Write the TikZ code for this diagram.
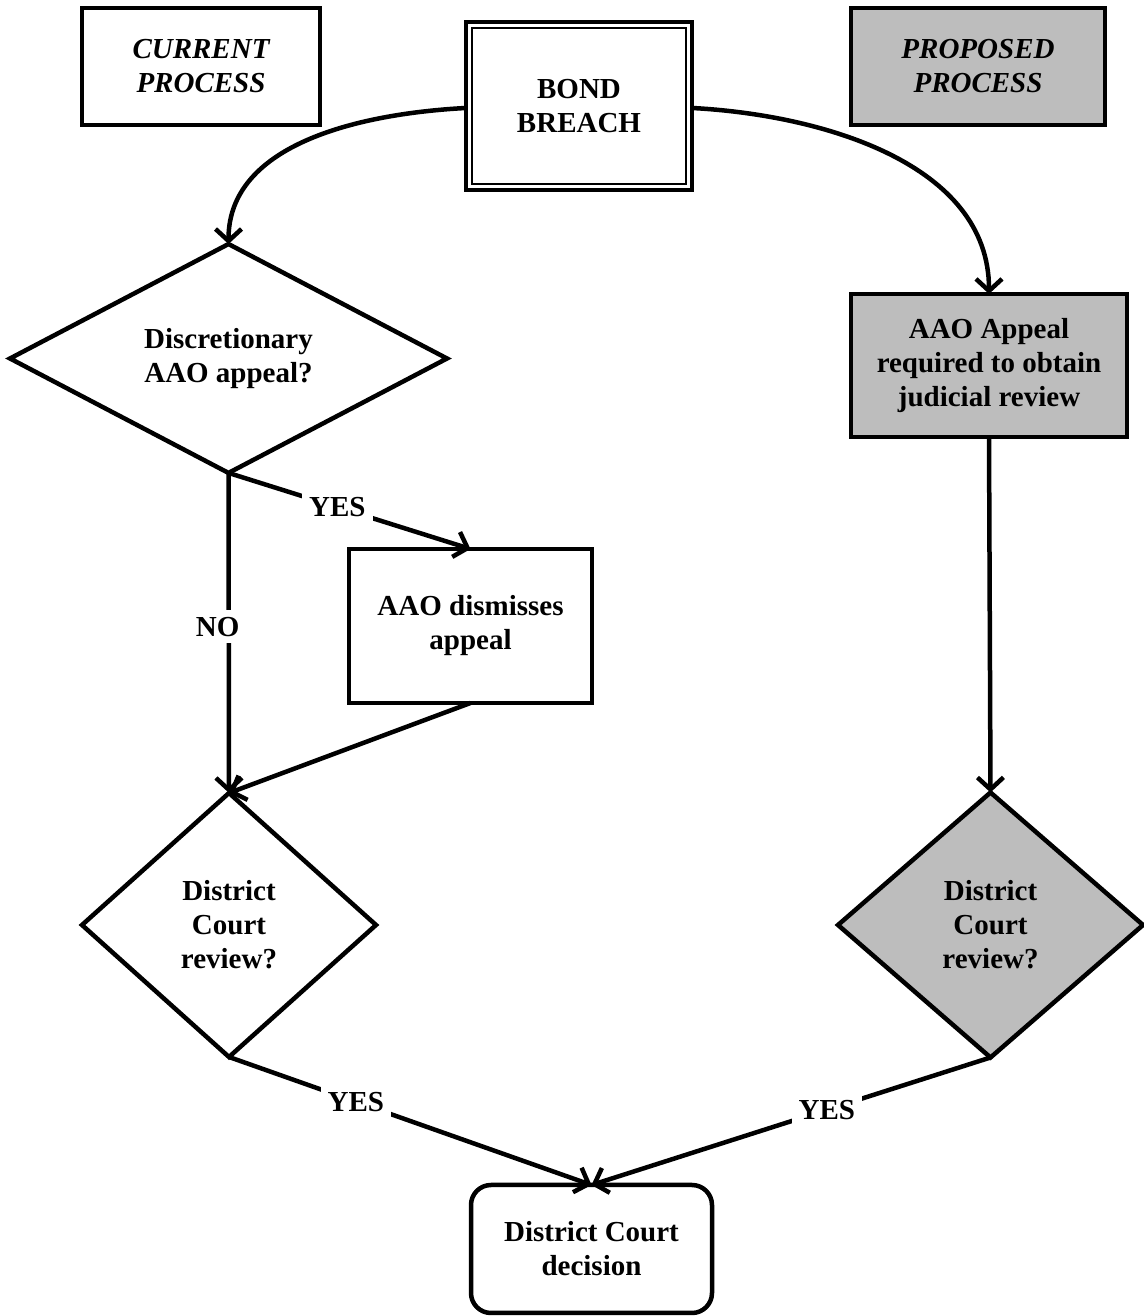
\documentclass[tikz,border=0pt]{standalone}
\usepackage{fontspec}
\setmainfont{Liberation Serif}
\usetikzlibrary{shapes.geometric,arrows.meta}
\definecolor{shade}{gray}{0.74}
\tikzset{
  txt/.style={font=\bfseries\fontsize{29}{34}\selectfont, align=center},
  box/.style={txt, draw, rectangle, line width=4.5pt, inner sep=0pt, outer sep=0pt},
  dia/.style={txt, draw, diamond, line width=4.5pt, inner sep=0pt, outer sep=0pt},
  conn/.style={line width=4.5pt, -{Straight Barb[length=12pt,width=26pt]}},
  lab/.style={txt, fill=white, inner sep=7pt},
}
\begin{document}
\begin{tikzpicture}[x=1pt,y=1pt]
\useasboundingbox (0,0) rectangle (1143,1316);
% header boxes
\node[box, minimum width=238pt, minimum height=117pt] (cur) at (201,1249.5) {\itshape CURRENT\\\itshape PROCESS};
\node[box, minimum width=226pt, minimum height=168pt] (bb) at (579,1210) {BOND\\BREACH};
\draw[line width=1.5pt] ([shift={(6pt,-6pt)}]bb.north west) rectangle ([shift={(-6pt,6pt)}]bb.south east);
\node[box, fill=shade, minimum width=254pt, minimum height=117pt] (prop) at (978,1249.5) {\itshape PROPOSED\\\itshape PROCESS};
% current process
\node[dia, minimum width=437pt, minimum height=217pt] (disc) at (228.5,957.5) {Discretionary\\AAO appeal?};
\node[box, minimum width=243pt, minimum height=154pt] (dism) at (470.5,690) {AAO dismisses\\appeal};
\node[dia, minimum width=294pt, minimum height=264pt] (dcl) at (229,391) {District\\Court\\review?};
% proposed process
\node[box, fill=shade, minimum width=276pt, minimum height=143pt] (aaoa) at (989,950.5) {AAO Appeal\\required to obtain\\judicial review};
\node[dia, fill=shade, minimum width=305pt, minimum height=265pt] (dcr) at (990.5,391) {District\\Court\\review?};
% decision
\node[box, rounded corners=20pt, minimum width=241pt, minimum height=128pt] (dec) at (591.5,67) {District Court\\decision};
% connectors
\draw[conn] ([yshift=-2pt]bb.west) to[out=183, in=90, looseness=0.95] (disc.north);
\draw[conn] ([yshift=-2pt]bb.east) to[out=-3, in=90, looseness=0.95] (aaoa.north);
\draw[conn] (disc.south) -- node[lab, pos=0.48, xshift=-11pt] {NO} (dcl.north);
\draw[conn] (disc.south) -- node[lab, pos=0.45] {YES} (dism.north);
\draw[conn] (dism.south) -- (dcl.north);
\draw[conn] (aaoa.south) -- (dcr.north);
\draw[conn] (dcl.south) -- node[lab, pos=0.35] {YES} (dec.north);
\draw[conn] (dcr.south) -- node[lab, pos=0.41] {YES} (dec.north);
\end{tikzpicture}
\end{document}
